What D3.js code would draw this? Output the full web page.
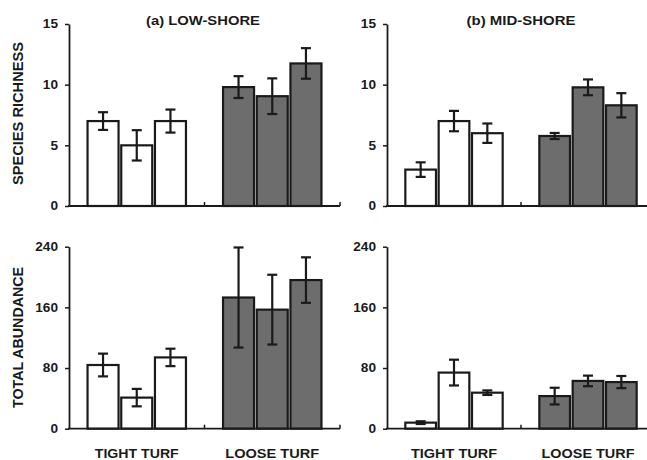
<!DOCTYPE html>
<html>
<head>
<meta charset="utf-8">
<script src="https://cdn.jsdelivr.net/npm/d3@7"></script>
<style>
  html, body { margin: 0; padding: 0; background: #ffffff; }
  svg text { font-family: "Liberation Sans", Arial, sans-serif; font-weight: bold; fill: #1a1a1a; }
</style>
</head>
<body>
<svg id="chart" width="647" height="460"></svg>
<script>
// ---------------- DATA ----------------
const groups = ["TIGHT TURF", "LOOSE TURF"];
const replicates = ["1", "2", "3"];
const panelTitles = ["(a) LOW-SHORE", "(b) MID-SHORE"];
const rowLabels = ["SPECIES RICHNESS", "TOTAL ABUNDANCE"];
const richnessTicks = [0, 5, 10, 15];
const abundanceTicks = [0, 80, 160, 240];

// first three values = TIGHT TURF, last three = LOOSE TURF
const richnessLowMean = [7.0, 5.0, 7.0, 9.8, 9.05, 11.75];
const richnessLowSE   = [0.73, 1.25, 0.95, 0.9, 1.47, 1.26];
const richnessMidMean = [3.0, 7.0, 6.0, 5.77, 9.78, 8.3];
const richnessMidSE   = [0.6, 0.84, 0.8, 0.25, 0.65, 1.0];
const abundanceLowMean = [84, 41, 94, 173, 157, 196];
const abundanceLowSE   = [15, 11.5, 11.5, 66, 46, 30];
const abundanceMidMean = [8, 74, 47.5, 43, 63, 61.5];
const abundanceMidSE   = [1.8, 17, 3, 11, 7, 8];

// ---------------- LAYOUT ----------------
const svg = d3.select("#chart");
const ink = "#1a1a1a";
const colX = [[69, 340], [387, 655]];
const rowY = [[206, 24], [428.7, 246.7]];

function rows(means, ses) {
  return means.map((m, i) => ({
    group: groups[Math.floor(i / 3)],
    rep: replicates[i % 3],
    mean: m,
    se: ses[i]
  }));
}

const panels = [
  { col: 0, row: 0, data: rows(richnessLowMean, richnessLowSE), ticks: richnessTicks },
  { col: 1, row: 0, data: rows(richnessMidMean, richnessMidSE), ticks: richnessTicks },
  { col: 0, row: 1, data: rows(abundanceLowMean, abundanceLowSE), ticks: abundanceTicks },
  { col: 1, row: 1, data: rows(abundanceMidMean, abundanceMidSE), ticks: abundanceTicks }
];

function stretch(sel, factor) {
  sel.each(function () {
    const t = this.getComputedTextLength();
    d3.select(this).attr("textLength", t * factor).attr("lengthAdjust", "spacingAndGlyphs");
  });
}

panels.forEach(p => {
  const [x0, x1] = colX[p.col];
  const [yb, yt] = rowY[p.row];
  const x = d3.scaleBand().domain(groups).range([x0, x1]).padding(0);
  const xi = d3.scaleBand().domain(replicates).range([0, x.bandwidth()])
    .paddingInner(0.08).paddingOuter(0.55);
  const y = d3.scaleLinear().domain([p.ticks[0], p.ticks[p.ticks.length - 1]]).range([yb, yt]);

  const g = svg.append("g");

  // bars
  g.selectAll("rect.bar").data(p.data).enter().append("rect")
    .attr("class", "bar")
    .attr("x", d => x(d.group) + xi(d.rep))
    .attr("y", d => y(d.mean))
    .attr("width", xi.bandwidth())
    .attr("height", d => y(0) - y(d.mean))
    .attr("fill", d => d.group === groups[0] ? "#ffffff" : "#6d6d6d")
    .attr("stroke", ink)
    .attr("stroke-width", 2.2);

  // error bars
  const eb = g.selectAll("g.err").data(p.data).enter().append("g").attr("class", "err");
  const cx = d => x(d.group) + xi(d.rep) + xi.bandwidth() / 2;
  eb.append("line")
    .attr("x1", cx).attr("x2", cx)
    .attr("y1", d => y(d.mean + d.se)).attr("y2", d => y(d.mean - d.se))
    .attr("stroke", ink).attr("stroke-width", 2.2);
  [1, -1].forEach(s => {
    eb.append("line")
      .attr("x1", d => cx(d) - 5).attr("x2", d => cx(d) + 5)
      .attr("y1", d => y(d.mean + s * d.se)).attr("y2", d => y(d.mean + s * d.se))
      .attr("stroke", ink).attr("stroke-width", 2.2);
  });

  // x axis: line with ticks at band boundaries pointing up
  const xa = svg.append("g");
  xa.append("line").attr("x1", x0 - 1).attr("x2", x1).attr("y1", yb).attr("y2", yb)
    .attr("stroke", ink).attr("stroke-width", 1.8);
  const bounds = groups.map(gname => x(gname)).concat([x.range()[1]]).slice(1);
  xa.selectAll("line.tk").data(bounds).enter().append("line")
    .attr("class", "tk")
    .attr("x1", d => d).attr("x2", d => d)
    .attr("y1", yb).attr("y2", yb - 4)
    .attr("stroke", ink).attr("stroke-width", 1.5);

  // y axis
  const ya = svg.append("g").attr("transform", `translate(${x0},0)`)
    .call(d3.axisLeft(y).tickValues(p.ticks).tickSize(4).tickSizeOuter(0).tickPadding(7));
  ya.select(".domain").attr("stroke", ink).attr("stroke-width", 1.8);
  ya.selectAll(".tick line").attr("stroke", ink).attr("stroke-width", 1.5);
  ya.selectAll(".tick text")
    .attr("font-family", null).attr("font-size", 12.2).attr("fill", ink);
  stretch(ya.selectAll(".tick text"), 1.12);

  // category labels (bottom row only)
  if (p.row === 1) {
    const labelW = p.col === 0 ? [84, 94] : [86, 93];
    svg.selectAll(null).data(groups).enter().append("text")
      .attr("x", d => x(d) + x.bandwidth() / 2)
      .attr("y", 458)
      .attr("text-anchor", "middle")
      .attr("font-size", 13.5)
      .attr("textLength", (d, i) => labelW[i])
      .attr("lengthAdjust", "spacingAndGlyphs")
      .text(d => d);
  }
  // panel titles (top row)
  if (p.row === 0) {
    svg.append("text")
      .attr("x", (x0 + x1) / 2 + (p.col === 0 ? -1.5 : 0))
      .attr("y", 24.5)
      .attr("text-anchor", "middle")
      .attr("font-size", 13)
      .attr("textLength", p.col === 0 ? 114 : 109)
      .attr("lengthAdjust", "spacingAndGlyphs")
      .text(panelTitles[p.col]);
  }
  // row labels (left column)
  if (p.col === 0) {
    const cy = p.row === 0 ? 113.5 : 337.5;
    svg.append("text")
      .attr("transform", `translate(22.5,${cy}) rotate(-90)`)
      .attr("text-anchor", "middle")
      .attr("font-size", 14)
      .attr("textLength", p.row === 0 ? 143 : 141)
      .attr("lengthAdjust", "spacingAndGlyphs")
      .text(rowLabels[p.row]);
  }
});
</script>
</body>
</html>
